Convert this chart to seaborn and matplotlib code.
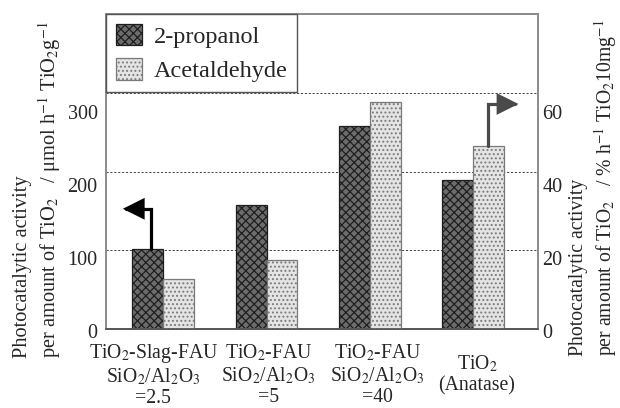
import matplotlib
matplotlib.use("Agg")
import matplotlib.pyplot as plt
import seaborn as sns
import pandas as pd
from matplotlib.ticker import MultipleLocator, FixedLocator
from matplotlib.transforms import offset_copy, ScaledTranslation
from matplotlib.patches import Patch

# ---------------- data ----------------
categories = [
    "TiO$_2$-Slag-FAU\nSiO$_2$/Al$_2$O$_3$\n=2.5",
    "TiO$_2$-FAU\nSiO$_2$/Al$_2$O$_3$\n=5",
    "TiO$_2$-FAU\nSiO$_2$/Al$_2$O$_3$\n=40",
    "TiO$_2$\n(Anatase)",
]
series = ["2-propanol", "Acetaldehyde"]
propanol = [110, 170, 279, 205]          # µmol h-1 TiO2 g-1 (left axis)
acetaldehyde = [13.7, 18.9, 62.4, 50.2]  # % h-1 TiO2 10mg-1 (right axis)
left_ticks = [0, 100, 200, 300]
right_ticks = [0, 20, 40, 60]
left_label = "Photocatalytic activity\nper amount of TiO$_2$   / \u03bcmol h$^{-1}$ TiO$_2$g$^{-1}$"
right_label = "Photocatalytic activity\nper amount of TiO$_2$   / % h$^{-1}$ TiO$_2$10mg$^{-1}$"

# ---------------- style ----------------
sns.set_theme(style="white")
plt.rcParams["font.family"] = ["Liberation Serif", "DejaVu Serif"]
plt.rcParams["mathtext.fontset"] = "stix"
plt.rcParams["hatch.linewidth"] = 0.9

FS = 14.5
prop_face, prop_edge, prop_hatch = "#6c6c6c", "#1e1e1e", "xxxx"
acet_face, acet_edge, acet_hatch = "#e4e4e4", "#7a7a7a", "...."
xlabel_shift_px = [-10, 2, 8, 4]   # layout nudges of the category labels

fig = plt.figure(figsize=(6.2, 4.08), dpi=100)
ax = fig.add_axes([106 / 620, 1 - 329 / 408, 432 / 620, 315 / 408])
ax2 = ax.twinx()

df_p = pd.DataFrame({"cat": categories, "val": propanol, "series": series[0]})
df_a = pd.DataFrame({"cat": categories, "val": acetaldehyde, "series": series[1]})

sns.barplot(data=df_p, x="cat", y="val", hue="series", hue_order=series,
            order=categories, dodge=True, width=0.6, legend=False, ax=ax,
            err_kws={"linewidth": 0})
sns.barplot(data=df_a, x="cat", y="val", hue="series", hue_order=series,
            order=categories, dodge=True, width=0.6, legend=False, ax=ax2,
            err_kws={"linewidth": 0})

for p in ax.patches:
    p.set_facecolor(prop_face); p.set_edgecolor(prop_edge)
    p.set_hatch(prop_hatch); p.set_linewidth(0.9)
for p in ax2.patches:
    p.set_facecolor(acet_face); p.set_edgecolor(acet_edge)
    p.set_hatch(acet_hatch); p.set_linewidth(0.9)

# scales
ax.set_xlim(-0.555, 3.63)
ax.set_ylim(0, 432)
ax2.set_ylim(0, 432 / 5)

# grid
ax.set_axisbelow(True)
ax.yaxis.set_minor_locator(MultipleLocator(108))
ax.grid(False)
ax.grid(True, which="minor", axis="y", linestyle=(0, (2.2, 1.8)),
        color="#444444", linewidth=0.7)
ax2.grid(False)

# ticks
ax.yaxis.set_major_locator(FixedLocator(left_ticks))
ax2.yaxis.set_major_locator(FixedLocator(right_ticks))
ax.tick_params(axis="y", which="both", length=0, pad=6, labelsize=FS)
ax2.tick_params(axis="y", which="both", length=0, pad=3, labelsize=FS)
down = ScaledTranslation(0, -1.5 / 100, fig.dpi_scale_trans)
for lab in ax.get_yticklabels() + ax2.get_yticklabels():
    lab.set_transform(lab.get_transform() + down)
ax.tick_params(axis="x", length=0, pad=33, labelsize=14.2)
for lab, dx in zip(ax.get_xticklabels(), xlabel_shift_px):
    lab.set_verticalalignment("center")
    lab.set_linespacing(1.12)
    lab.set_transform(lab.get_transform() + ScaledTranslation(dx / 100, 0, fig.dpi_scale_trans))
ax.set_xlabel(""); ax.set_ylabel(""); ax2.set_ylabel("")

for a in (ax, ax2):
    for s in a.spines.values():
        s.set_color("#8a8a8a"); s.set_linewidth(1.2)
ax.spines["bottom"].set_color("#555555")
ax2.spines["bottom"].set_color("#555555")

# axis titles
fig.text(38 / 620, 1 - 358 / 408, left_label, rotation=90, ha="center",
         va="bottom", multialignment="left", fontsize=14.7, linespacing=1.2)
fig.text(594 / 620, 1 - 356 / 408, right_label, rotation=90, ha="center",
         va="bottom", multialignment="left", fontsize=14.2, linespacing=1.2)

# legend
handles = [Patch(facecolor=prop_face, edgecolor=prop_edge, hatch=prop_hatch, linewidth=0.9),
           Patch(facecolor=acet_face, edgecolor=acet_edge, hatch=acet_hatch, linewidth=0.9)]
leg = ax2.legend(handles, series, loc="upper left", bbox_to_anchor=(0, 1),
                 borderaxespad=0, fancybox=False, framealpha=1, fontsize=17.5,
                 handlelength=1.1, handleheight=1.0, handletextpad=0.45,
                 labelspacing=0.42, borderpad=0.4)
leg.get_frame().set_edgecolor("#555555")
leg.get_frame().set_linewidth(1.0)

# elbow arrows pointing to the relevant axis
p0 = ax.patches[0]
x0 = p0.get_x() + p0.get_width() / 2
y0 = p0.get_height()
ax.annotate("", xy=(x0, y0), xycoords=offset_copy(ax.transData, fig=fig, x=-25, y=40, units="dots"),
            xytext=(x0, y0), textcoords=offset_copy(ax.transData, fig=fig, x=3, y=0, units="dots"),
            arrowprops=dict(arrowstyle="-|>,head_length=1.0,head_width=0.5",
                            connectionstyle="angle,angleA=90,angleB=0,rad=0",
                            color="#000000", lw=2.3, shrinkA=0, shrinkB=0,
                            mutation_scale=12, joinstyle="miter"))
p3 = ax2.patches[3]
x3 = p3.get_x() + p3.get_width() / 2
y3 = p3.get_height()
ax2.annotate("", xy=(x3, y3), xycoords=offset_copy(ax2.transData, fig=fig, x=30, y=42, units="dots"),
             xytext=(x3, y3), textcoords="data",
             arrowprops=dict(arrowstyle="-|>,head_length=1.0,head_width=0.5",
                             connectionstyle="angle,angleA=90,angleB=0,rad=0",
                             color="#4a4a4a", lw=2.3, shrinkA=0, shrinkB=0,
                             mutation_scale=12, joinstyle="miter"))

fig.savefig("out.png", dpi=100, facecolor="white")
